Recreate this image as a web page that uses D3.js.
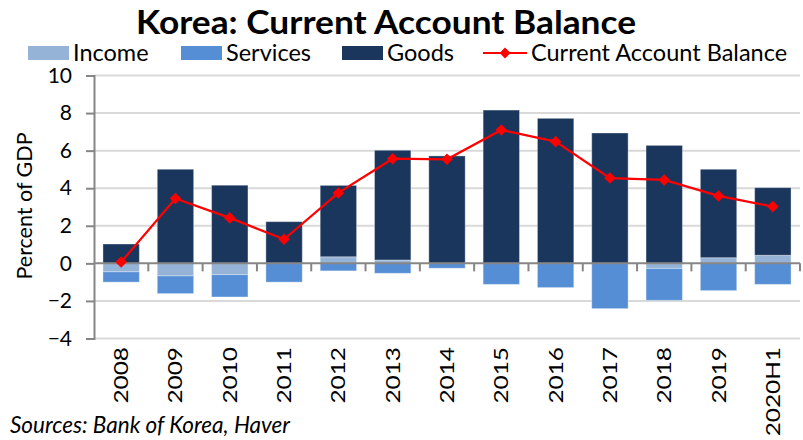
<!DOCTYPE html>
<html>
<head>
<meta charset="utf-8">
<script src="https://cdn.jsdelivr.net/npm/d3@7"></script>
<style>
  body { margin: 0; background: #fff; }
  svg text { font-family: Lato, "Open Sans", sans-serif; fill: #000; }
</style>
</head>
<body>
<svg id="chart" width="803" height="440"></svg>
<script>
// data (percent of GDP)
const years = ['2008','2009','2010','2011','2012','2013','2014','2015','2016','2017','2018','2019','2020H1'];
const income   = [-0.45, -0.67, -0.60, 0.00, 0.35, 0.18, 0.00, 0.00, 0.00, 0.00, -0.27, 0.30, 0.43];
const services = [-0.55, -0.94, -1.19, -1.00, -0.40, -0.53, -0.26, -1.12, -1.29, -2.41, -1.70, -1.45, -1.12];
const goods    = [1.03, 5.01, 4.16, 2.22, 3.80, 5.84, 5.72, 8.16, 7.72, 6.94, 6.28, 4.71, 3.60];
const balance  = [0.07, 3.45, 2.42, 1.28, 3.75, 5.57, 5.54, 7.10, 6.48, 4.54, 4.44, 3.59, 3.02];
const yTicks = [-4, -2, 0, 2, 4, 6, 8, 10];

const keys = ['income', 'services', 'goods'];
const colors = {income: '#95b3d7', services: '#558ed5', goods: '#1a365d'};
const labels = {income: 'Income', services: 'Services', goods: 'Goods'};

const rows = years.map((yr, i) => ({year: yr, income: income[i], services: services[i], goods: goods[i], balance: balance[i]}));

const svg = d3.select('#chart');
const plotL = 94, plotR = 800, plotT = 75.5, plotB = 338.5;

const x = d3.scaleBand().domain(years).range([plotL, plotR]).paddingInner(0.33).paddingOuter(0.165);
const y = d3.scaleLinear().domain([-4, 10]).range([plotB, plotT]);

// gridlines
svg.append('g').selectAll('line').data(yTicks.filter(d => d !== 0)).enter().append('line')
  .attr('x1', plotL).attr('x2', plotR)
  .attr('y1', d => y(d)).attr('y2', d => y(d))
  .attr('stroke', '#d9d9d9').attr('stroke-width', 2);

// stacked bars
const series = d3.stack().keys(keys).offset(d3.stackOffsetDiverging)(rows);
svg.append('g').selectAll('g').data(series).enter().append('g')
  .attr('fill', d => colors[d.key])
  .selectAll('rect').data(d => d).enter().append('rect')
  .attr('x', d => x(d.data.year))
  .attr('width', x.bandwidth())
  .attr('y', d => y(Math.max(d[0], d[1])))
  .attr('height', d => Math.abs(y(d[0]) - y(d[1])))
  .attr('stroke', 'rgba(255,255,255,0.35)').attr('stroke-width', 1);

// y axis
const yAxis = svg.append('g').attr('transform', `translate(${plotL},0)`)
  .call(d3.axisLeft(y).tickValues(yTicks).tickSize(8).tickPadding(14));
yAxis.select('.domain').attr('stroke', '#868686').attr('stroke-width', 2);
yAxis.selectAll('.tick line').attr('stroke', '#868686').attr('stroke-width', 2);
yAxis.selectAll('.tick text').attr('font-size', 21).style('font-family', 'Lato');

// zero line with category boundary ticks
const step = x.step();
const bounds = d3.range(1, years.length + 1).map(i => plotL + i * step);
svg.append('line').attr('x1', plotL).attr('x2', plotR).attr('y1', y(0)).attr('y2', y(0))
  .attr('stroke', '#868686').attr('stroke-width', 2);
svg.append('g').selectAll('line').data(bounds).enter().append('line')
  .attr('x1', d => d).attr('x2', d => d).attr('y1', y(0)).attr('y2', y(0) + 8)
  .attr('stroke', '#868686').attr('stroke-width', 2);

// category labels
const xAxis = svg.append('g').attr('transform', 'translate(0,347)')
  .call(d3.axisBottom(x).tickSize(0).tickPadding(0));
xAxis.select('.domain').remove();
xAxis.selectAll('.tick text')
  .attr('font-size', 20).attr('y', 0).attr('dy', '0.35em')
  .attr('text-anchor', 'end')
  .attr('transform', 'rotate(-90) scale(1.22,1)')
  .style('font-family', 'Lato');

// current account balance line
const line = d3.line().x(d => x(d.year) + x.bandwidth() / 2).y(d => y(d.balance));
svg.append('path').datum(rows).attr('fill', 'none').attr('stroke', '#ff0000').attr('stroke-width', 2.2).attr('d', line);
svg.append('g').selectAll('path').data(rows).enter().append('path')
  .attr('d', d3.symbol(d3.symbolDiamond2, 85))
  .attr('transform', d => `translate(${x(d.year) + x.bandwidth() / 2},${y(d.balance)})`)
  .attr('fill', '#ff0000');

// title
svg.append('text').attr('x', 386).attr('y', 33.5).attr('text-anchor', 'middle')
  .attr('font-size', 33).attr('font-weight', 'bold')
  .attr('textLength', 500).attr('lengthAdjust', 'spacingAndGlyphs')
  .text('Korea: Current Account Balance');

// y axis title
svg.append('text').attr('transform', 'translate(32,206) rotate(-90)').attr('text-anchor', 'middle')
  .attr('font-size', 21.5).text('Percent of GDP');

// legend
const legendX = [28, 181, 342];
keys.forEach((k, i) => {
  svg.append('rect').attr('x', legendX[i]).attr('y', 46).attr('width', 41).attr('height', 14).attr('fill', colors[k]);
  svg.append('text').attr('x', legendX[i] + 45).attr('y', 61).attr('font-size', 23.5).text(labels[k]);
});
svg.append('line').attr('x1', 483).attr('x2', 527).attr('y1', 53).attr('y2', 53).attr('stroke', '#ff0000').attr('stroke-width', 2.2);
svg.append('path').attr('d', d3.symbol(d3.symbolDiamond2, 75)).attr('transform', 'translate(505,53)').attr('fill', '#ff0000');
svg.append('text').attr('x', 531).attr('y', 61).attr('font-size', 23.5).text('Current Account Balance');

// source
svg.append('text').attr('x', 10).attr('y', 433).attr('font-size', 22.5).attr('font-style', 'italic')
  .text('Sources: Bank of Korea, Haver');
</script>
</body>
</html>
